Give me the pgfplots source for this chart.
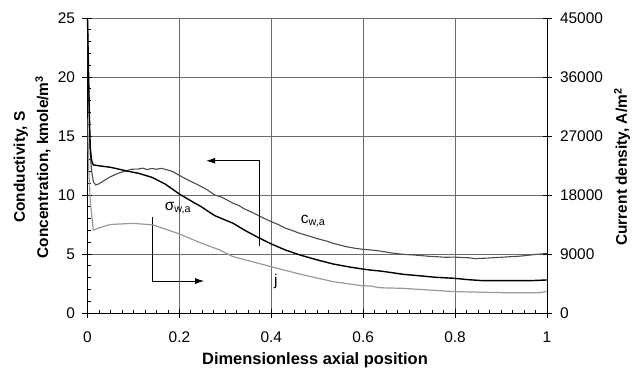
\documentclass[border=0pt]{standalone}
\usepackage{fontspec}
\setmainfont{Liberation Sans}
\usepackage{pgfplots}
\pgfplotsset{compat=1.18}
\usetikzlibrary{arrows.meta}
\definecolor{gridc}{gray}{0.42}
\definecolor{cgray}{gray}{0.3}
\definecolor{jgray}{gray}{0.6}

\pgfplotstableread{
x y
0 25
0.002 20
0.004 15.5
0.006 13.5
0.009 12.0
0.013 11.1
0.018 10.85
0.025 10.95
0.038 11.27
0.05 11.55
0.067 11.84
0.08 12.0
0.096 12.18
0.11 12.2
0.12 12.28
0.13 12.15
0.14 12.25
0.15 12.18
0.16 12.26
0.169 12.18
0.185 12.0
0.205 11.55
0.22 11.25
0.241 10.85
0.26 10.45
0.277 10.0
0.29 9.85
0.3 9.65
0.317 9.3
0.33 9.1
0.34 8.85
0.36 8.5
0.38 8.1
0.4 7.74
0.415 7.5
0.43 7.2
0.445 7.0
0.462 6.75
0.48 6.55
0.5 6.3
0.52 6.1
0.535 5.9
0.56 5.65
0.58 5.5
0.598 5.4
0.615 5.35
0.637 5.25
0.658 5.11
0.68 5.0
0.695 4.95
0.709 4.92
0.73 4.85
0.745 4.8
0.76 4.77
0.78 4.72
0.798 4.74
0.815 4.7
0.83 4.68
0.845 4.6
0.854 4.63
0.87 4.65
0.88 4.68
0.9 4.72
0.919 4.77
0.935 4.8
0.95 4.85
0.965 4.92
0.978 4.97
1.0 5.05
}\cdata

\pgfplotstableread{
x y
0 25
0.002 21
0.004 17
0.006 14
0.009 12.9
0.0126 12.55
0.03 12.45
0.05 12.35
0.067 12.2
0.09 12.0
0.111 11.84
0.14 11.5
0.169 10.93
0.2 10.08
0.234 9.3
0.245 9.07
0.277 8.25
0.317 7.6
0.345 6.95
0.375 6.33
0.4 5.85
0.43 5.35
0.462 4.92
0.5 4.5
0.535 4.15
0.57 3.9
0.598 3.73
0.615 3.64
0.637 3.56
0.687 3.28
0.76 3.02
0.798 2.94
0.83 2.82
0.861 2.74
0.963 2.74
1.0 2.8
}\sdata

\pgfplotstableread{
x y
0 29700
0.003 21600
0.006 17100
0.0126 12650
0.025 12960
0.049 13500
0.1 13680
0.143 13430
0.2 12060
0.245 10730
0.288 9610
0.317 8590
0.4 7060
0.462 5940
0.535 4770
0.598 4160
0.615 4120
0.637 3850
0.687 3760
0.798 3260
0.905 3100
0.985 3100
1.0 3300
}\jdata

\begin{document}
\begin{tikzpicture}[font=\fontsize{15.5}{18}\selectfont]
\useasboundingbox (-87.5bp,-59bp) rectangle (556.5bp,313bp);
\begin{axis}[
  scale only axis, width=459.5bp, height=295bp,
  xmin=0, xmax=1, ymin=0, ymax=25,
  axis x line*=bottom, axis y line*=left,
  axis line style={black, line width=0.9bp, -},
  xtick={0,0.2,...,1}, ytick={0,5,...,25},
  xticklabels={0,0.2,0.4,0.6,0.8,1},
  minor x tick num=7, minor y tick num=4,
  grid=major, major grid style={gridc, line width=0.9bp},
  tick style={black, line width=0.8bp},
  tick align=inside, major tick length=4bp, minor tick length=3bp,
  extra x ticks={0,0.2,0.4,0.6,0.8,1}, extra y ticks={0,5,10,15,20,25},
  extra tick style={tick align=outside, major tick length=5bp, grid=none},
  extra x tick labels={}, extra y tick labels={},
  xticklabel style={yshift=-15bp},
  yticklabel style={xshift=-9bp},
  /pgf/number format/assume math mode=true,
  clip=false,
]
\addplot[cgray, line width=1.1bp] table {\cdata};
\addplot[black, line width=1.4bp] table {\sdata};
\node at (axis cs:0.197,8.9) {σ\textsubscript{w,a}};
\node at (axis cs:0.491,7.8) {c\textsubscript{w,a}};
\node at (axis cs:0.41,2.7) {j};
\draw[black, line width=1bp, -{Latex[length=9bp,width=6bp]}] (axis cs:0.375,5.68) -- (axis cs:0.375,12.9) -- (axis cs:0.258,12.9);
\draw[black, line width=1bp, -{Latex[length=9bp,width=6bp]}] (axis cs:0.142,8.16) -- (axis cs:0.142,2.71) -- (axis cs:0.254,2.71);
\end{axis}
\begin{axis}[
  scale only axis, width=459.5bp, height=295bp,
  xmin=0, xmax=1, ymin=0, ymax=45000,
  axis x line=none, axis y line*=right,
  axis line style={black, line width=0.9bp, -},
  ytick={0,9000,...,45000},
  scaled y ticks=false,
  yticklabel style={/pgf/number format/fixed, /pgf/number format/1000 sep={}, xshift=5bp},
  tick style={black, line width=0.8bp},
  tick align=center, major tick length=9bp,
  /pgf/number format/assume math mode=true,
]
\addplot[jgray, line width=1.2bp] table {\jdata};
\end{axis}
\node[rotate=90, font=\fontsize{15.5}{18}\selectfont\bfseries] at (-66.5bp,146bp) {Conductivity, S};
\node[rotate=90, font=\fontsize{15.5}{18}\selectfont\bfseries] at (-44.5bp,146bp) {Concentration, kmole/m\textsuperscript{3}};
\node[rotate=90, font=\fontsize{15.5}{18}\selectfont\bfseries] at (534.5bp,146bp) {Current density, A/m\textsuperscript{2}};
\node[font=\fontsize{16.5}{18}\selectfont\bfseries] at (227.5bp,-47bp) {Dimensionless axial position};
\end{tikzpicture}
\end{document}
